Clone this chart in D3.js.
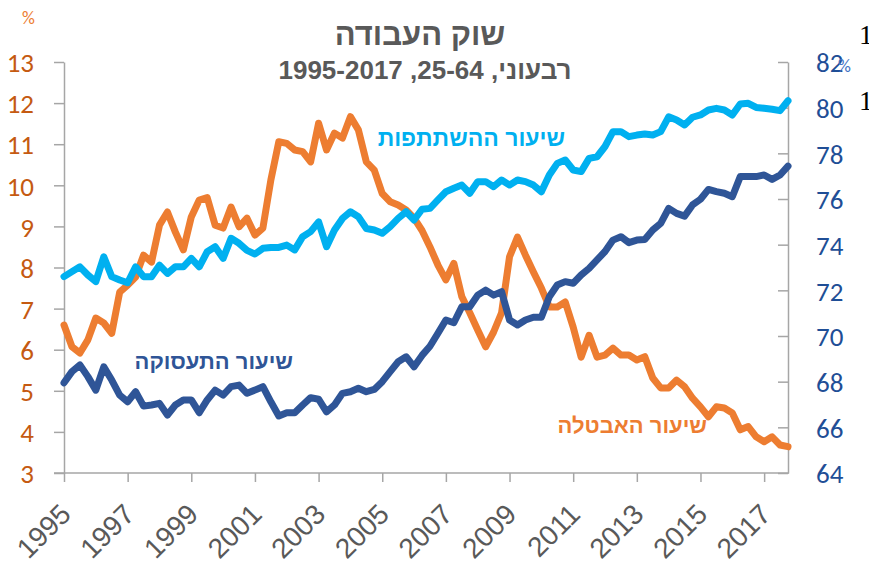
<!DOCTYPE html>
<meta charset="utf-8">
<script src="https://d3js.org/d3.v7.min.js"></script>
<style>
  body { margin: 0; background: #fff; }
  svg { display: block; }
</style>
<div id="my_dataviz"></div>
<script>
    // quarterly, 1995Q1 - 2017Q4
    var years = [1995, 1996, 1997, 1998, 1999, 2000, 2001, 2002, 2003, 2004, 2005,
                 2006, 2007, 2008, 2009, 2010, 2011, 2012, 2013, 2014, 2015, 2016, 2017];
    var tickYears = [1995, 1997, 1999, 2001, 2003, 2005, 2007, 2009, 2011, 2013, 2015, 2017];

    // unemployment rate (left axis, %)
    var unemployment = [6.6, 6.07, 5.92, 6.24, 6.77, 6.65, 6.4, 7.4, 7.57, 7.77, 8.3, 8.13,
        9.03, 9.35, 8.86, 8.43, 9.23, 9.64, 9.7, 9.03, 8.96, 9.47, 8.99, 9.2,
        8.79, 8.96, 10.13, 11.06, 11.02, 10.86, 10.82, 10.57, 11.51, 10.86, 11.27, 11.15,
        11.67, 11.35, 10.57, 10.37, 9.8, 9.6, 9.52, 9.4, 9.2, 8.9, 8.5, 8.06,
        7.7, 8.1, 7.29, 6.9, 6.48, 6.07, 6.43, 6.9, 8.26, 8.74, 8.3, 7.89,
        7.5, 7.04, 7.04, 7.16, 6.55, 5.82, 6.35, 5.82, 5.87, 6.04, 5.87, 5.87,
        5.75, 5.83, 5.31, 5.07, 5.07, 5.26, 5.1, 4.82, 4.61, 4.37, 4.61, 4.58,
        4.46, 4.05, 4.13, 3.88, 3.76, 3.88, 3.68, 3.64];

    // participation rate (right axis, %)
    var participation = [72.6, 72.82, 73.03, 72.67, 72.38, 73.47, 72.6, 72.45, 72.33, 73.03, 72.6, 72.6,
        73.1, 72.74, 73.03, 73.03, 73.4, 73.03, 73.69, 73.91, 73.4, 74.28, 74.06, 73.75,
        73.59, 73.84, 73.88, 73.88, 73.98, 73.77, 74.35, 74.57, 75.0, 73.91, 74.64, 75.15,
        75.44, 75.22, 74.71, 74.64, 74.5, 74.79, 75.15, 75.44, 75.08, 75.55, 75.59, 75.96,
        76.32, 76.47, 76.61, 76.25, 76.76, 76.76, 76.54, 76.83, 76.61, 76.83, 76.76, 76.61,
        76.32, 77.05, 77.56, 77.71, 77.27, 77.2, 77.78, 77.85, 78.3, 78.95, 78.95, 78.73,
        78.8, 78.85, 78.8, 78.95, 79.6, 79.46, 79.24, 79.58, 79.68, 79.9, 79.97, 79.9,
        79.68, 80.16, 80.19, 80.01, 79.97, 79.93, 79.87, 80.3];

    // employment rate (right axis, %)
    var employment = [67.95, 68.44, 68.73, 68.22, 67.63, 68.65, 68.07, 67.41, 67.12, 67.56, 66.93, 66.98,
        67.05, 66.54, 66.98, 67.2, 67.2, 66.64, 67.2, 67.63, 67.41, 67.78, 67.85, 67.49,
        67.63, 67.78, 67.12, 66.5, 66.64, 66.64, 66.98, 67.3, 67.23, 66.68, 66.98, 67.49,
        67.56, 67.71, 67.56, 67.66, 68.0, 68.44, 68.87, 69.09, 68.65, 69.15, 69.55, 70.12,
        70.7, 70.58, 71.28, 71.28, 71.79, 72.01, 71.79, 71.94, 70.7, 70.48, 70.7, 70.82,
        70.82, 71.72, 72.23, 72.38, 72.31, 72.67, 72.96, 73.33, 73.7, 74.2, 74.35, 74.09,
        74.2, 74.23, 74.64, 74.93, 75.59, 75.37, 75.25, 75.74, 75.99, 76.42, 76.32, 76.25,
        76.1, 76.98, 76.98, 76.98, 77.05, 76.86, 77.05, 77.44];

    var leftTicks = [3, 4, 5, 6, 7, 8, 9, 10, 11, 12, 13];
    var rightTicks = [64, 66, 68, 70, 72, 74, 76, 78, 80, 82];

    var title = "שוק העבודה";
    var subtitle = "רבעוני, 25-64, 1995-2017";
    var seriesNames = ["שיעור האבטלה", "שיעור התעסוקה", "שיעור ההשתתפות"];

    // quarter labels
    var quarters = [];
    years.forEach(function(y) { for (var q = 1; q <= 4; q++) quarters.push(y + "Q" + q); });

    var W = 869, H = 569;
    var margin = {top: 62, right: 81, bottom: 96, left: 64},
        width = W - margin.left - margin.right,
        height = H - margin.top - margin.bottom;

    var svg = d3.select("#my_dataviz")
      .append("svg")
        .attr("width", W)
        .attr("height", H);

    var g = svg.append("g")
        .attr("transform", "translate(" + margin.left + "," + margin.top + ")");

    var x = d3.scalePoint().domain(quarters).range([0, width]);
    var yL = d3.scaleLinear().domain([3, 13]).range([height, 0]);
    var yR = d3.scaleLinear().domain([64, 82]).range([height, 0]);

    var axisColor = "#a6a6a6";

    // x axis
    var xAxis = g.append("g")
        .attr("transform", "translate(0," + height + ")")
        .call(d3.axisBottom(x)
            .tickValues(tickYears.map(function(y) { return y + "Q1"; }))
            .tickFormat(function(d) { return d.slice(0, 4); })
            .tickSize(9).tickSizeOuter(0));
    xAxis.select(".domain").attr("stroke", axisColor).attr("stroke-width", 1.5)
        .attr("d", "M-10,0H" + (width + 1));
    xAxis.selectAll("line").attr("stroke", axisColor).attr("stroke-width", 1.5);
    xAxis.selectAll("text")
        .attr("x", 0).attr("y", 0).attr("dy", null)
        .attr("transform", "translate(8,43) rotate(-45)")
        .style("text-anchor", "end")
        .style("font-family", "'Liberation Sans', Arial, sans-serif")
        .style("font-size", "28px")
        .attr("fill", "#595959");

    // left axis
    var leftAxis = g.append("g")
        .call(d3.axisLeft(yL).tickValues(leftTicks).tickSize(10).tickPadding(20).tickSizeOuter(0));
    leftAxis.select(".domain").attr("stroke", axisColor).attr("stroke-width", 1.5);
    leftAxis.selectAll("line").attr("stroke", axisColor).attr("stroke-width", 1.5);
    leftAxis.selectAll("text")
        .attr("dy", "0.36em")
        .style("font-family", "Carlito, Lato, sans-serif")
        .style("font-size", "27px")
        .attr("fill", "#C55A11");

    // right axis (ticks inward)
    var rightAxis = g.append("g")
        .attr("transform", "translate(" + width + ",0)")
        .call(d3.axisRight(yR).tickValues(rightTicks).tickSize(-10).tickPadding(28).tickSizeOuter(0));
    rightAxis.select(".domain").attr("stroke", axisColor).attr("stroke-width", 1.5);
    rightAxis.selectAll("line").attr("stroke", axisColor).attr("stroke-width", 1.5);
    rightAxis.selectAll("text")
        .attr("dy", "0.36em")
        .style("font-family", "Carlito, Lato, sans-serif")
        .style("font-size", "27px")
        .attr("fill", "#1F4E96");

    // lines
    function drawLine(values, scale, color) {
        var line = d3.line()
            .x(function(d, i) { return x(quarters[i]); })
            .y(function(d) { return scale(d); });
        g.append("path")
            .datum(values)
            .attr("fill", "none")
            .attr("stroke", color)
            .attr("stroke-width", 7)
            .attr("stroke-linejoin", "round")
            .attr("stroke-linecap", "round")
            .attr("d", line);
    }
    drawLine(unemployment, yL, "#ED7D31");
    drawLine(employment, yR, "#2F5597");
    drawLine(participation, yR, "#00B0F0");

    // series labels
    var hebFont = "'Liberation Sans', Arial, sans-serif";
    var labels = [
        {text: seriesNames[0], x: 707, y: 433, color: "#ED7D31", size: 22},
        {text: seriesNames[1], x: 293, y: 369, color: "#2F5597", size: 22},
        {text: seriesNames[2], x: 565, y: 146, color: "#00B0F0", size: 23}
    ];
    labels.forEach(function(l) {
        svg.append("text")
            .attr("x", l.x).attr("y", l.y)
            .attr("direction", "rtl")
            .style("text-anchor", "start")
            .style("font-family", hebFont)
            .style("font-weight", "bold")
            .style("font-size", l.size + "px")
            .attr("fill", l.color)
            .text(l.text);
    });

    // titles
    svg.append("text")
        .attr("x", 420).attr("y", 45)
        .attr("direction", "rtl")
        .style("text-anchor", "middle")
        .style("font-family", hebFont)
        .style("font-weight", "bold")
        .style("font-size", "31px")
        .attr("fill", "#595959")
        .text(title);
    svg.append("text")
        .attr("x", 425).attr("y", 79)
        .attr("direction", "rtl")
        .style("text-anchor", "middle")
        .style("font-family", hebFont)
        .style("font-weight", "bold")
        .style("font-size", "26px")
        .attr("fill", "#595959")
        .text(subtitle);

    // unit marks
    svg.append("text")
        .attr("x", 22).attr("y", 24)
        .style("font-family", "Carlito, Lato, sans-serif")
        .style("font-size", "18px")
        .attr("fill", "#ED7D31")
        .text("%");
    svg.append("text")
        .attr("x", 838).attr("y", 72)
        .style("font-family", "Carlito, Lato, sans-serif")
        .style("font-size", "18px")
        .attr("fill", "#4472C4")
        .text("%");

    // clipped stray glyphs at the right edge
    [44, 110].forEach(function(yy) {
        svg.append("text")
            .attr("x", 859).attr("y", yy)
            .style("font-family", "'Liberation Serif', serif")
            .style("font-size", "28px")
            .attr("fill", "#000")
            .text("1");
    });
</script>
